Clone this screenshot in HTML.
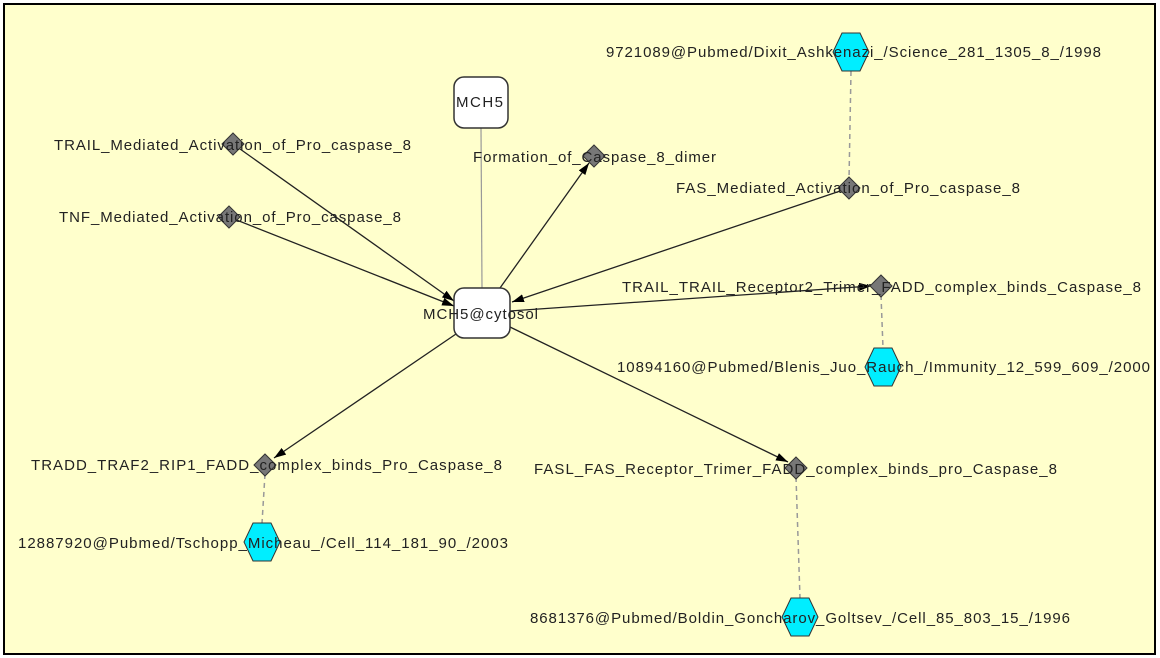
<!DOCTYPE html>
<html><head><style>
html,body{margin:0;padding:0;background:#fff;}
svg{display:block;}
text{font-family:"Liberation Sans",Arial,sans-serif;font-size:15px;fill:#222;text-anchor:middle;}
</style></head><body>
<svg width="1160" height="658" viewBox="0 0 1160 658" xmlns="http://www.w3.org/2000/svg">
<defs>
<marker id="a" viewBox="0 0 12 8" refX="12" refY="4" markerWidth="12" markerHeight="8" orient="auto" markerUnits="userSpaceOnUse">
<path d="M0,0 L12,4 L0,8 Z" fill="#000"/></marker>
</defs>
<rect x="4" y="4" width="1151" height="650" fill="#FFFFCC" stroke="#000" stroke-width="2"/>
<line x1="481" y1="128" x2="482" y2="288" stroke="#999" stroke-width="1.2"/>
<g stroke="#222" stroke-width="1.3" fill="none">
<line x1="233" y1="144" x2="454" y2="301" marker-end="url(#a)"/>
<line x1="229" y1="217" x2="454" y2="306" marker-end="url(#a)"/>
<line x1="500" y1="288" x2="589" y2="163" marker-end="url(#a)"/>
<line x1="849" y1="188" x2="512" y2="302" marker-end="url(#a)"/>
<line x1="510" y1="311" x2="871" y2="286" marker-end="url(#a)"/>
<line x1="456" y1="334" x2="274" y2="458" marker-end="url(#a)"/>
<line x1="510" y1="327" x2="788" y2="462" marker-end="url(#a)"/>
</g>
<g stroke="#999" stroke-width="1.5" stroke-dasharray="5,4">
<line x1="851" y1="71" x2="849" y2="180"/>
<line x1="881" y1="295" x2="883" y2="348"/>
<line x1="265" y1="474" x2="262" y2="523"/>
<line x1="796" y1="477" x2="800" y2="598"/>
</g>
<rect x="454" y="77" width="54" height="51" rx="10" fill="#fff" stroke="#333" stroke-width="1.5"/>
<rect x="454" y="288" width="56" height="50" rx="10" fill="#fff" stroke="#333" stroke-width="1.5"/>
<g fill="#777" stroke="#333" stroke-width="1">
<path d="M233,133 L244,144 L233,155 L222,144Z"/>
<path d="M229,206 L240,217 L229,228 L218,217Z"/>
<path d="M594,145 L605,156 L594,167 L583,156Z"/>
<path d="M849,177 L860,188 L849,199 L838,188Z"/>
<path d="M881,275 L892,286 L881,297 L870,286Z"/>
<path d="M265,454 L276,465 L265,476 L254,465Z"/>
<path d="M796,457 L807,468 L796,479 L785,468Z"/>
</g>
<g fill="#00EEFF" stroke="#333" stroke-width="1">
<path d="M842,33 L860,33 L869,52 L860,71 L842,71 L833,52Z"/>
<path d="M874,348 L892,348 L901,367 L892,386 L874,386 L865,367Z"/>
<path d="M253,523 L271,523 L280,542 L271,561 L253,561 L244,542Z"/>
<path d="M791,598 L809,598 L818,617 L809,636 L791,636 L782,617Z"/>
</g>
<text x="479.5" y="107" textLength="47" lengthAdjust="spacing">MCH5</text>
<text x="480.5" y="319" textLength="115" lengthAdjust="spacing">MCH5@cytosol</text>
<text x="232.5" y="150" textLength="357" lengthAdjust="spacing">TRAIL_Mediated_Activation_of_Pro_caspase_8</text>
<text x="230" y="222" textLength="342" lengthAdjust="spacing">TNF_Mediated_Activation_of_Pro_caspase_8</text>
<text x="594.5" y="162" textLength="243" lengthAdjust="spacing">Formation_of_Caspase_8_dimer</text>
<text x="848" y="193" textLength="344" lengthAdjust="spacing">FAS_Mediated_Activation_of_Pro_caspase_8</text>
<text x="881.5" y="292" textLength="519" lengthAdjust="spacing">TRAIL_TRAIL_Receptor2_Trimer_FADD_complex_binds_Caspase_8</text>
<text x="266.5" y="470" textLength="471" lengthAdjust="spacing">TRADD_TRAF2_RIP1_FADD_complex_binds_Pro_Caspase_8</text>
<text x="795.5" y="474" textLength="523" lengthAdjust="spacing">FASL_FAS_Receptor_Trimer_FADD_complex_binds_pro_Caspase_8</text>
<text x="853.5" y="57" textLength="495" lengthAdjust="spacing">9721089@Pubmed/Dixit_Ashkenazi_/Science_281_1305_8_/1998</text>
<text x="883.5" y="372" textLength="533" lengthAdjust="spacing">10894160@Pubmed/Blenis_Juo_Rauch_/Immunity_12_599_609_/2000</text>
<text x="263" y="548" textLength="490" lengthAdjust="spacing">12887920@Pubmed/Tschopp_Micheau_/Cell_114_181_90_/2003</text>
<text x="800" y="623" textLength="540" lengthAdjust="spacing">8681376@Pubmed/Boldin_Goncharov_Goltsev_/Cell_85_803_15_/1996</text>
</svg>
</body></html>
